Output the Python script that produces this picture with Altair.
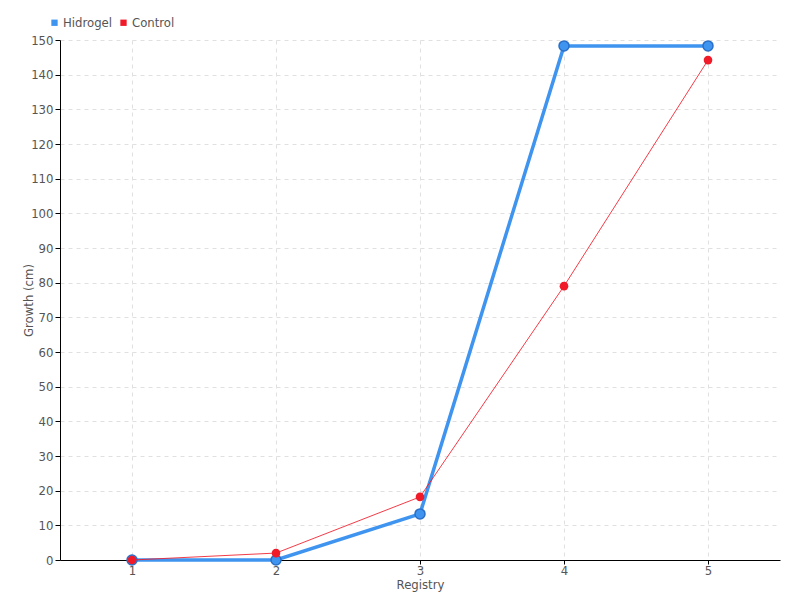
import altair as alt
import pandas as pd

registry = [1, 2, 3, 4, 5]
hidrogel = [0, 0, 13.3, 148.3, 148.3]
control = [0, 2, 18.2, 79, 144.2]
series_names = ["Hidrogel", "Control"]
series_colors = ["#3f94f0", "#f01a28"]

df = pd.DataFrame(
    [{"Registry": r, "Growth": v, "Series": "Hidrogel"} for r, v in zip(registry, hidrogel)]
    + [{"Registry": r, "Growth": v, "Series": "Control"} for r, v in zip(registry, control)]
)

FONT = "DejaVu Sans Condensed"
TXT = "#555555"

color = alt.Color(
    "Series:N",
    scale=alt.Scale(domain=series_names, range=series_colors),
    legend=alt.Legend(
        title=None, orient="none", direction="horizontal", legendX=-12, legendY=-24,
        symbolType="square", symbolSize=40, labelFont=FONT, labelFontSize=13,
        labelColor=TXT, columnPadding=4, symbolStrokeWidth=0, labelOffset=2,
    ),
)

x = alt.X(
    "Registry:Q",
    scale=alt.Scale(domain=[0.5, 5.5], nice=False, zero=False),
    axis=alt.Axis(values=registry, format="d", title="Registry",
                  titleBaseline="bottom", titleY=31, titleAnchor="middle",
                  labelPadding=0, tickSize=4, grid=True),
)
y = alt.Y(
    "Growth:Q",
    scale=alt.Scale(domain=[0, 150], nice=False),
    axis=alt.Axis(values=list(range(0, 151, 10)), title="Growth (cm)", titlePadding=-5, grid=True),
)

base = alt.Chart(df)
h = base.transform_filter(alt.datum.Series == "Hidrogel")
c = base.transform_filter(alt.datum.Series == "Control")

h_line = h.mark_line(strokeWidth=3.5).encode(x=x, y=y, color=color)
h_pts = h.mark_point(filled=True, size=100, opacity=1, stroke="#2a6fc8", strokeWidth=1.5).encode(
    x=x, y=y, color=color)
c_line = c.mark_line(strokeWidth=1, opacity=0.85).encode(x=x, y=y, color=color)
c_pts = c.mark_point(filled=True, size=75, opacity=1).encode(x=x, y=y, color=color)

chart = alt.layer(h_line, h_pts, c_line, c_pts).properties(
    width=720, height=520,
    autosize=alt.AutoSizeParams(type="none"),
    padding={"left": 52, "top": 32, "right": 12, "bottom": 32},
).configure_axis(
    labelFont=FONT, titleFont=FONT, labelFontSize=13, titleFontSize=13,
    labelColor=TXT, titleColor=TXT, titleFontWeight="normal",
    domainColor="#000000", tickColor="#000000", tickSize=5,
    gridColor="#e0e0e0", gridDash=[4, 4],
).configure_view(stroke=None)

chart.save("out.html", embed_options={"renderer": "svg", "actions": False})
